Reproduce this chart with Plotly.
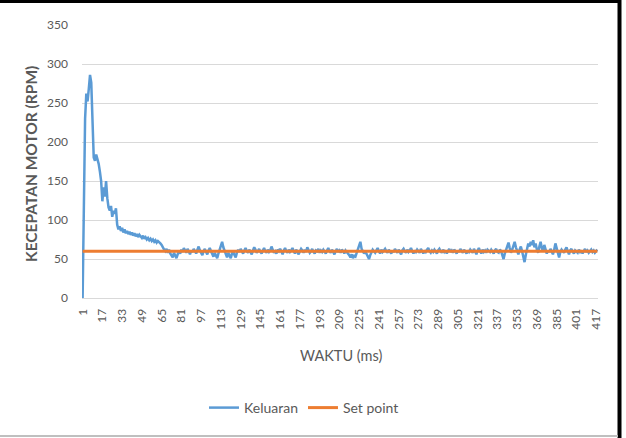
import plotly.graph_objects as go

# Keluaran (motor speed, RPM), read sample by sample from the reference
keluaran_rise = [0, 140, 230, 262, 252, 268, 286, 276, 215, 180,
                 176, 184, 178, 172, 162, 150, 124, 142, 130, 150,
                 128, 116, 112, 118, 104, 112, 108, 115, 94, 88,
                 92, 86, 90, 84, 88, 83, 86, 82, 85, 81,
                 84, 80, 83, 79, 82, 78, 81, 79, 77, 80,
                 76, 78, 75, 77, 74, 76, 73, 75, 72, 74,
                 71, 73, 72, 70, 68, 64, 62, 60, 63, 58]
keluaran_steady = [62, 57, 55, 52, 58, 54, 51, 56, 60, 57, 62, 59, 64, 61, 58, 63, 60, 56, 61, 59,
                   63, 60, 57, 62, 66, 61, 58, 55, 60, 63, 59, 56, 61, 64, 60, 57, 53, 58, 55, 51,
                   57, 62, 68, 72, 65, 60, 56, 52, 58, 54, 51, 57, 60, 55, 52, 58, 62, 59, 63, 60,
                   57, 61, 64, 60, 58, 62, 59, 56, 61, 65, 62, 58, 60, 63, 59, 57, 61, 64, 60, 58,
                   62, 59, 61, 66, 62, 58, 60, 57, 62, 60, 63, 59, 56, 61, 64, 60, 58, 62, 59, 61,
                   64, 60, 57, 62, 59, 56, 60, 63, 61, 58, 62, 59, 65, 61, 58, 60, 63, 59, 57, 61,
                   60, 63, 58, 61, 59, 62, 60, 57, 61, 64, 60, 58, 62, 59, 56, 60, 63, 59, 61, 58,
                   62, 60, 57, 61, 59, 58, 55, 52, 56, 51, 54, 53, 58, 62, 66, 72, 63, 59, 57, 60,
                   56, 52, 50, 55, 59, 62, 60, 58, 61, 64, 60, 57, 62, 59, 61, 63, 60, 58, 62, 60,
                   57, 61, 59, 63, 60, 58, 62, 59, 56, 61, 63, 60, 58, 62, 59, 61, 64, 60, 57, 61,
                   59, 62, 60, 58, 63, 60, 57, 61, 59, 62, 64, 60, 58, 61, 59, 62, 60, 57, 61, 63,
                   60, 58, 62, 59, 61, 57, 60, 63, 59, 61, 58, 62, 60, 57, 61, 59, 63, 60, 58, 62,
                   60, 57, 61, 59, 62, 60, 58, 63, 59, 56, 61, 64, 60, 57, 62, 59, 61, 58, 62, 60,
                   59, 62, 60, 57, 61, 63, 59, 58, 62, 60, 55, 50, 57, 62, 66, 71, 64, 58, 62, 68,
                   72, 65, 60, 56, 62, 66, 60, 52, 46, 55, 63, 70, 66, 72, 68, 74, 65, 70, 62, 58,
                   66, 72, 64, 60, 68, 62, 57, 61, 59, 63, 60, 56, 62, 70, 64, 58, 52, 59, 62, 60,
                   58, 62, 65, 60, 56, 61, 63, 59, 57, 61, 60, 58, 62, 59, 61, 57, 60, 63, 59, 61,
                   58, 60, 62, 59, 61, 58, 60, 62]
keluaran = keluaran_rise + keluaran_steady
waktu = list(range(1, len(keluaran) + 1))
set_point_value = 60
set_point = [set_point_value] * len(keluaran)

x_tick_vals = list(range(1, len(keluaran) + 1, 16))
x_tick_text = [str(v) for v in x_tick_vals]
y_tick_vals = [0, 50, 100, 150, 200, 250, 300, 350]

FONT = "Lato"
GREY = "#595959"

fig = go.Figure()
fig.add_trace(go.Scatter(x=waktu, y=keluaran, mode="lines", name="Keluaran",
                         line=dict(color="#5B9BD5", width=2.5)))
fig.add_trace(go.Scatter(x=waktu, y=set_point, mode="lines", name="Set point",
                         line=dict(color="#ED7D31", width=3)))

L, R, T, B = 82, 28, 25, 140
W, H = 626, 438
pw, ph = W - L - R, H - T - B

def px(x):
    return (x - L) / pw

def py(y):
    return (H - B - y) / ph

fig.update_layout(
    width=W, height=H,
    margin=dict(l=L, r=R, t=T, b=B),
    paper_bgcolor="white", plot_bgcolor="white",
    font=dict(family=FONT, size=12, color=GREY),
    showlegend=True,
    legend=dict(orientation="h", x=px(204), xanchor="left", y=py(408), yanchor="middle",
                font=dict(family=FONT, size=14, color=GREY), itemwidth=30),
    xaxis=dict(range=[0.5, len(keluaran) + 0.5], tickmode="array",
               tickvals=x_tick_vals, ticktext=x_tick_text, tickangle=-90,
               showgrid=False, showline=True, linecolor="#D9D9D9", linewidth=1,
               ticks="", zeroline=False, ticklabelstandoff=5,
               tickfont=dict(family=FONT, size=12, color=GREY)),
    yaxis=dict(range=[0, 350], tickmode="array", tickvals=y_tick_vals,
               showgrid=True, gridcolor="#D9D9D9", gridwidth=1, zeroline=False,
               showline=False, ticks="", ticklabelstandoff=13,
               tickfont=dict(family=FONT, size=12, color=GREY)),
    annotations=[
        dict(text="<b>KECEPATAN MOTOR (RPM)</b>", textangle=-90, xref="paper", yref="paper",
             x=px(31), y=py(164), showarrow=False, xanchor="center", yanchor="middle",
             font=dict(family=FONT, size=15.5, color=GREY)),
        dict(text="WAKTU (ms)", xref="paper", yref="paper", x=px(341), y=py(355),
             showarrow=False, xanchor="center", yanchor="middle",
             font=dict(family=FONT, size=14.5, color=GREY)),
    ],
    shapes=[
        dict(type="line", xref="paper", yref="paper", x0=px(0), x1=px(621), y0=py(1.5), y1=py(1.5),
             line=dict(color="black", width=3)),
        dict(type="line", xref="paper", yref="paper", x0=px(619.5), x1=px(619.5), y0=py(0), y1=py(438),
             line=dict(color="black", width=4)),
        dict(type="line", xref="paper", yref="paper", x0=px(0), x1=px(618), y0=py(436), y1=py(436),
             line=dict(color="#BFBFBF", width=2)),
    ],
)

fig.write_html("out.html")
